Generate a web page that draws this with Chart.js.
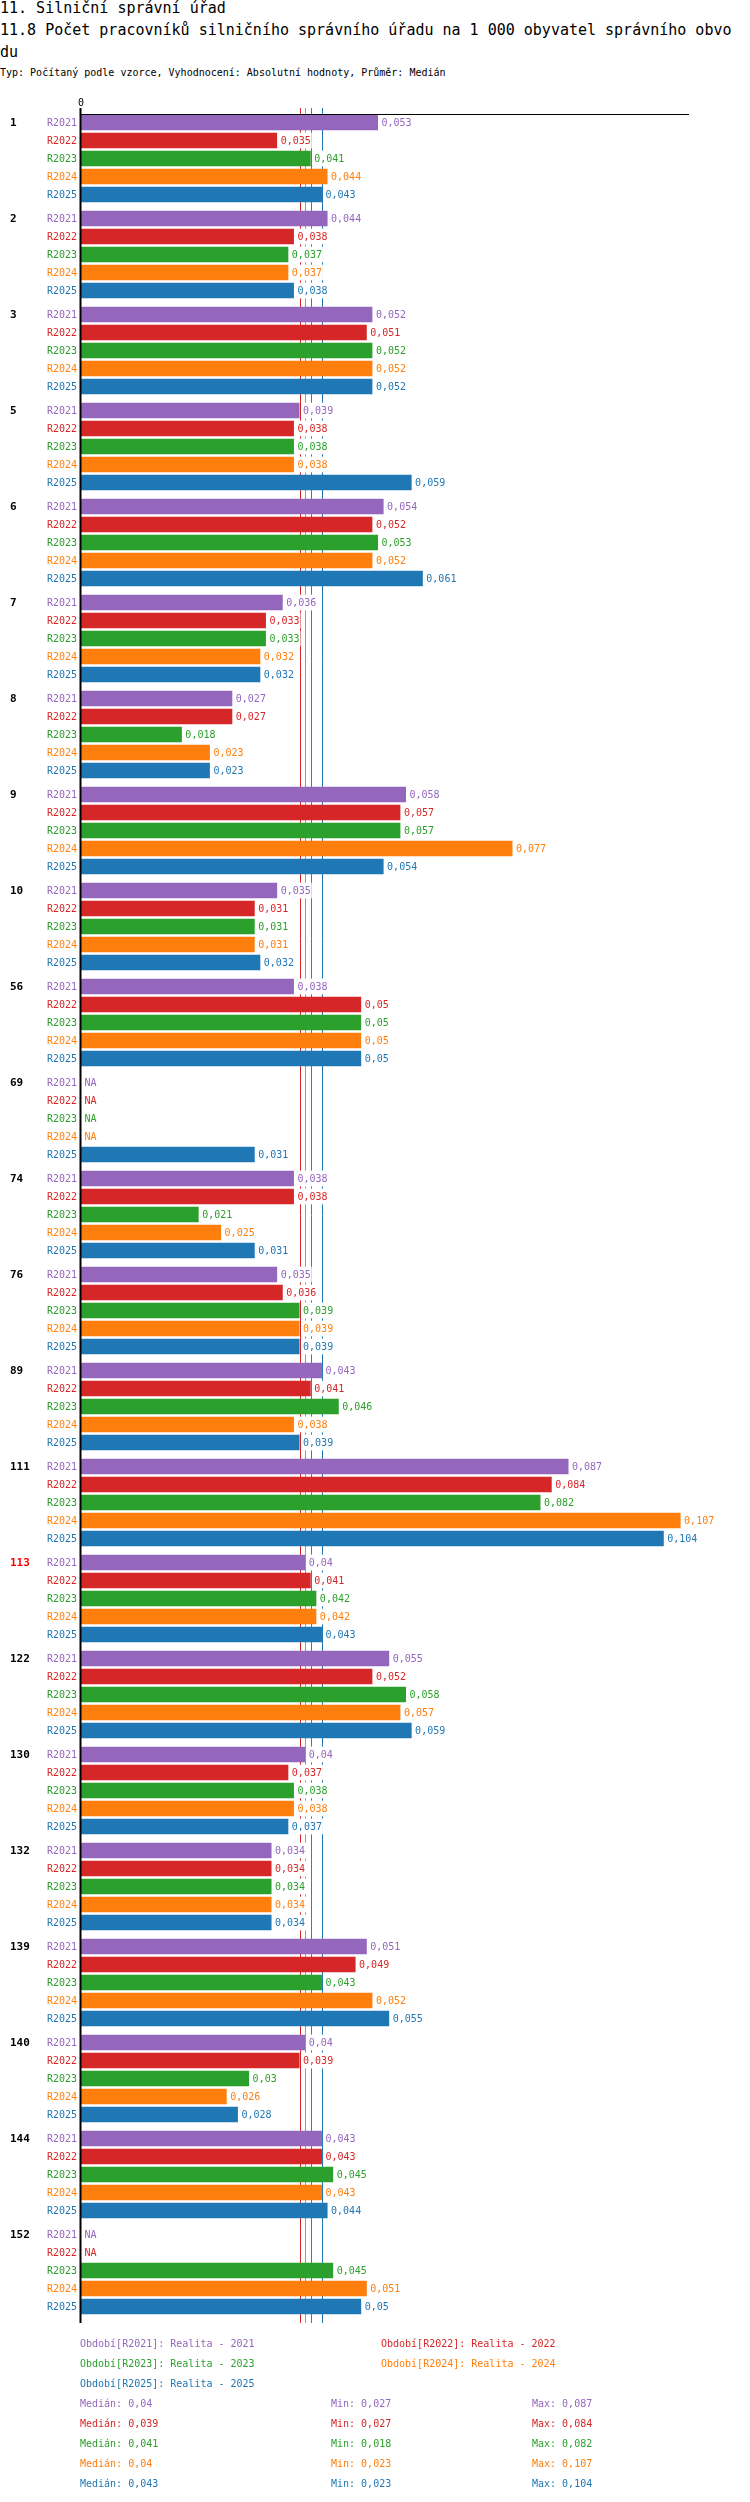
<!DOCTYPE html>
<html lang="cs">
<head>
<meta charset="utf-8">
<title>11.8 Počet pracovníků silničního správního úřadu</title>
<script src="https://cdn.jsdelivr.net/npm/chart.js@4"></script>
<style>
  body { margin: 0; width: 750px; height: 2502px; position: relative; background: #fff; color: #000;
         font-family: "DejaVu Sans Mono", monospace; overflow: hidden; }
  .nadpis { position: absolute; left: 0; top: -3px; width: 735px; font-size: 15px; line-height: 22px; word-break: break-all; }
  .typ { position: absolute; left: 0; top: 66px; font-size: 10px; line-height: 14px; white-space: pre; }
  .graf { position: absolute; left: 0; top: 90px; width: 750px; height: 2245px; }
  .legenda { position: absolute; left: 0; top: 2334px; width: 750px; font-size: 10px; line-height: 20px; }
  .radek { position: relative; height: 20px; }
  .radek span { position: absolute; top: 0; white-space: pre; }
</style>
</head>
<body>
<div class="nadpis">11. Silniční správní úřad<br>11.8 Počet pracovníků silničního správního úřadu na 1 000 obyvatel správního obvodu</div>
<div class="typ">Typ: Počítaný podle vzorce, Vyhodnocení: Absolutní hodnoty, Průměr: Medián</div>
<div class="graf"><canvas id="graf"></canvas></div>
<div class="legenda" id="legenda"></div>

<script>
//Data z grafu
var skupiny = ["1", "2", "3", "5", "6", "7", "8", "9", "10", "56", "69", "74", "76", "89", "111", "113", "122", "130", "132", "139", "140", "144", "152"];
var zvyraznenaSkupina = "113";
var obdobi = ["R2021", "R2022", "R2023", "R2024", "R2025"];
var nazvyObdobi = ["Realita - 2021", "Realita - 2022", "Realita - 2023", "Realita - 2024", "Realita - 2025"];
var barvy = ["#9467bd", "#d62728", "#2ca02c", "#ff7f0e", "#1f77b4"];

var r2021 = [0.053, 0.044, 0.052, 0.039, 0.054, 0.036, 0.027, 0.058, 0.035, 0.038, null, 0.038, 0.035, 0.043, 0.087, 0.04, 0.055, 0.04, 0.034, 0.051, 0.04, 0.043, null];
var r2022 = [0.035, 0.038, 0.051, 0.038, 0.052, 0.033, 0.027, 0.057, 0.031, 0.05, null, 0.038, 0.036, 0.041, 0.084, 0.041, 0.052, 0.037, 0.034, 0.049, 0.039, 0.043, null];
var r2023 = [0.041, 0.037, 0.052, 0.038, 0.053, 0.033, 0.018, 0.057, 0.031, 0.05, null, 0.021, 0.039, 0.046, 0.082, 0.042, 0.058, 0.038, 0.034, 0.043, 0.03, 0.045, 0.045];
var r2024 = [0.044, 0.037, 0.052, 0.038, 0.052, 0.032, 0.023, 0.077, 0.031, 0.05, null, 0.025, 0.039, 0.038, 0.107, 0.042, 0.057, 0.038, 0.034, 0.052, 0.026, 0.043, 0.051];
var r2025 = [0.043, 0.038, 0.052, 0.059, 0.061, 0.032, 0.023, 0.054, 0.032, 0.05, 0.031, 0.031, 0.039, 0.039, 0.104, 0.043, 0.059, 0.037, 0.034, 0.055, 0.028, 0.044, 0.05];

var mediany = [0.04, 0.039, 0.041, 0.04, 0.043];
var minima = [0.027, 0.027, 0.018, 0.023, 0.023];
var maxima = [0.087, 0.084, 0.082, 0.107, 0.104];

var hodnoty = [r2021, r2022, r2023, r2024, r2025];
var catPct = 0.9375;
var barPct = 0.872;

//Funzione pro ceske cislo (desetinna carka)
function formatuj(v) {
  if (v === null || v === undefined) {
    return "NA";
  }
  return String(v).replace(".", ",");
}

//Funzione pro vysku radku jednoho sloupce
function geometrie(chart) {
  var y = chart.scales.y;
  var pasmo = y.getPixelForValue(1) - y.getPixelForValue(0);
  var slot = pasmo * catPct / obdobi.length;
  return { y: y, slot: slot, vyska: slot * barPct };
}

//Plugin: medianove cary, popisky, osy
var popisky = {
  id: "popisky",
  beforeDatasetsDraw: function (chart) {
    var ctx = chart.ctx;
    var a = chart.chartArea;
    var x = chart.scales.x;
    ctx.save();
    ctx.lineWidth = 1;
    for (var d = 0; d < mediany.length; d++) {
      var px = Math.round(x.getPixelForValue(mediany[d])) + 0.5;
      ctx.strokeStyle = barvy[d];
      ctx.beginPath();
      ctx.moveTo(px, a.top - 2.5);
      ctx.lineTo(px, a.bottom + 4.5);
      ctx.stroke();
    }
    ctx.restore();
  },
  afterDatasetsDraw: function (chart) {
    var ctx = chart.ctx;
    var a = chart.chartArea;
    var x = chart.scales.x;
    var g = geometrie(chart);
    var x0 = x.getPixelForValue(0);
    ctx.save();
    ctx.textBaseline = "middle";
    for (var i = 0; i < skupiny.length; i++) {
      var stred = g.y.getPixelForValue(i);
      for (var d = 0; d < obdobi.length; d++) {
        var cy = stred + (d - (obdobi.length - 1) / 2) * g.slot;
        var v = hodnoty[d][i];
        // nazev obdobi vlevo
        ctx.font = "10px 'DejaVu Sans Mono'";
        ctx.textAlign = "right";
        ctx.fillStyle = barvy[d];
        ctx.fillText(obdobi[d], x0 - 4, cy + 0.5);
        // hodnota za sloupcem
        var text = formatuj(v);
        var konec = (v === null) ? x0 : x.getPixelForValue(v);
        var tx = konec + 3.5;
        var w = ctx.measureText(text).width;
        ctx.fillStyle = "#fff";
        ctx.fillRect(tx - 1, cy - g.vyska / 2, w + 2, g.vyska);
        ctx.textAlign = "left";
        ctx.fillStyle = barvy[d];
        ctx.fillText(text, tx, cy + 0.5);
      }
      // cislo skupiny
      var prvni = stred - (obdobi.length - 1) / 2 * g.slot;
      ctx.font = "bold 11px 'DejaVu Sans Mono'";
      ctx.textAlign = "left";
      ctx.fillStyle = (skupiny[i] === zvyraznenaSkupina) ? "#ff0000" : "#000";
      ctx.fillText(skupiny[i], 10, prvni + 0.5);
    }
    // osy
    ctx.strokeStyle = "#000";
    ctx.lineWidth = 1;
    ctx.beginPath();
    ctx.moveTo(x0, a.top + 4);
    ctx.lineTo(a.right, a.top + 4);
    ctx.stroke();
    ctx.lineWidth = 2;
    ctx.beginPath();
    ctx.moveTo(x0 - 0.5, a.top - 2.5);
    ctx.lineTo(x0 - 0.5, a.bottom + 4.5);
    ctx.stroke();
    ctx.font = "10px 'DejaVu Sans Mono'";
    ctx.textAlign = "center";
    ctx.fillStyle = "#000";
    ctx.fillText("0", x0, a.top - 7.5);
    ctx.restore();
  }
};

//Funzione per creare il grafico
function graf() {
  var sady = [];
  for (var d = 0; d < obdobi.length; d++) {
    sady.push({
      label: obdobi[d],
      data: hodnoty[d],
      backgroundColor: barvy[d],
      borderWidth: 0,
      categoryPercentage: catPct,
      barPercentage: barPct
    });
  }
  var ctx = document.getElementById("graf").getContext("2d");
  new Chart(ctx, {
    type: "bar",
    data: { labels: skupiny, datasets: sady },
    options: {
      indexAxis: "y",
      responsive: true,
      maintainAspectRatio: false,
      animation: false,
      layout: { padding: { top: 20.5, bottom: 16.5, left: 81, right: 61 } },
      plugins: { legend: { display: false }, tooltip: { enabled: false }, title: { display: false } },
      scales: {
        x: { type: "linear", display: false, min: 0, max: 0.1085 },
        y: { type: "category", display: false, offset: true }
      }
    },
    plugins: [popisky]
  });
}

//Funzione per la legenda
function legenda() {
  var box = document.getElementById("legenda");
  var html = "";
  for (var d = 0; d < obdobi.length; d += 2) {
    html += '<div class="radek">';
    html += '<span style="left:80px;color:' + barvy[d] + '">Období[' + obdobi[d] + ']: ' + nazvyObdobi[d] + '</span>';
    if (d + 1 < obdobi.length) {
      html += '<span style="left:381px;color:' + barvy[d + 1] + '">Období[' + obdobi[d + 1] + ']: ' + nazvyObdobi[d + 1] + '</span>';
    }
    html += '</div>';
  }
  for (var i = 0; i < obdobi.length; i++) {
    html += '<div class="radek" style="color:' + barvy[i] + '">';
    html += '<span style="left:80px">Medián: ' + formatuj(mediany[i]) + '</span>';
    html += '<span style="left:331px">Min: ' + formatuj(minima[i]) + '</span>';
    html += '<span style="left:532px">Max: ' + formatuj(maxima[i]) + '</span>';
    html += '</div>';
  }
  box.innerHTML = html;
}

graf();
legenda();
</script>
</body>
</html>
